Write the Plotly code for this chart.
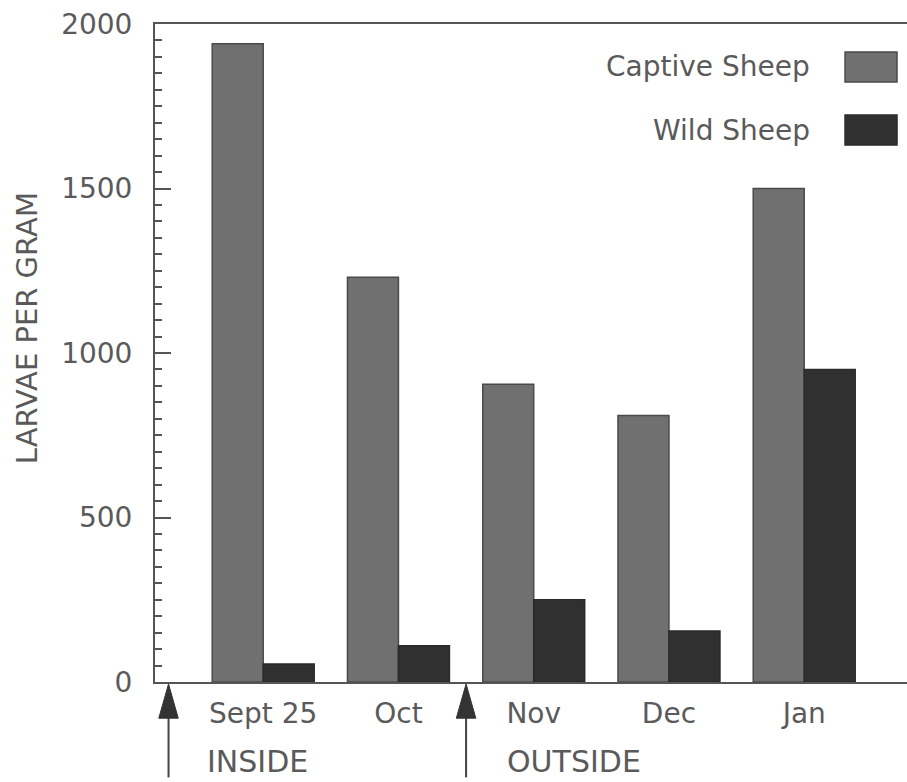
import plotly.graph_objects as go

# Larval counts by sampling month
months = ["Sept 25", "Oct", "Nov", "Dec", "Jan"]
month_pos = [1, 2, 3, 4, 5]
captive = [1940, 1230, 905, 810, 1500]
wild = [55, 110, 250, 155, 950]

y_ticks = [0, 500, 1000, 1500, 2000]

# housing changes marked along the time axis
moves = [0.3, 2.5]
move_labels = ["INSIDE", "OUTSIDE"]
move_label_x = [0.57, 2.79]

FONT = "DejaVu Sans"
TXT = "#5a5a5a"
CAPTIVE_C = "#707070"
WILD_C = "#303030"

fig = go.Figure()
fig.add_bar(x=month_pos, y=captive, name="Captive Sheep",
            marker=dict(color=CAPTIVE_C, line=dict(color="#4a4a4a", width=1.5)))
fig.add_bar(x=month_pos, y=wild, name="Wild Sheep",
            marker=dict(color=WILD_C, line=dict(color="#2a2a2a", width=1.5)))

fig.update_layout(
    width=907, height=782,
    margin=dict(l=155, r=0, t=24, b=100),
    paper_bgcolor="white", plot_bgcolor="white",
    barmode="group", bargap=0.246, bargroupgap=0,
    showlegend=False,
    font=dict(family=FONT, size=28, color=TXT),
)

fig.update_xaxes(
    range=[0.2, 5.76], tickmode="array", tickvals=month_pos, ticktext=months,
    showline=True, linecolor="#555", linewidth=2, mirror=True,
    ticks="", showgrid=False, zeroline=False,
    tickfont=dict(family=FONT, size=28, color=TXT),
    ticklabelstandoff=5,
)
fig.update_yaxes(
    range=[0, 2000], tickvals=y_ticks,
    showline=True, linecolor="#555", linewidth=2,
    ticks="inside", ticklen=16, tickwidth=1.5, tickcolor="#555",
    minor=dict(dtick=50, ticks="inside", ticklen=7, tickwidth=1.5, tickcolor="#555"),
    showgrid=False, zeroline=False,
    tickfont=dict(family=FONT, size=28, color=TXT),
    ticklabelstandoff=15,
)

# axis title
fig.add_annotation(text="LARVAE PER GRAM", xref="paper", yref="paper",
                   x=-0.170, y=0.538, xanchor="center", yanchor="middle",
                   textangle=-90, showarrow=False,
                   font=dict(family=FONT, size=29, color=TXT))

# arrows and labels below the axis
for xm, lab, lx in zip(moves, move_labels, move_label_x):
    fig.add_shape(type="line", xref="x", yref="paper", x0=xm, x1=xm,
                  y0=-0.052, y1=-0.145, line=dict(color="#444", width=2))
    hw = 0.072
    fig.add_shape(type="path", xref="x", yref="paper",
                  path=f"M {xm-hw},-0.055 L {xm+hw},-0.055 L {xm},-0.003 Z",
                  fillcolor="#333", line=dict(color="#333", width=1))
    fig.add_annotation(text=lab, xref="x", yref="paper", x=lx, y=-0.1215,
                       xanchor="left", yanchor="middle", showarrow=False,
                       font=dict(family=FONT, size=30, color=TXT))

# legend: label then swatch to its right
legend_items = [("Captive Sheep", CAPTIVE_C, "#4a4a4a", 0.9347, 0.9119, 0.9574),
                ("Wild Sheep", WILD_C, "#2a2a2a", 0.8389, 0.8161, 0.8617)]
for name, fc, lc, ty, y0, y1 in legend_items:
    fig.add_annotation(text=name, xref="paper", yref="paper", x=0.874, y=ty,
                       xanchor="right", yanchor="middle", showarrow=False,
                       font=dict(family=FONT, size=28, color=TXT))
    fig.add_shape(type="rect", xref="paper", yref="paper",
                  x0=0.9176, x1=0.9867, y0=y0, y1=y1,
                  fillcolor=fc, line=dict(color=lc, width=1.5))

fig.write_html("out.html")
